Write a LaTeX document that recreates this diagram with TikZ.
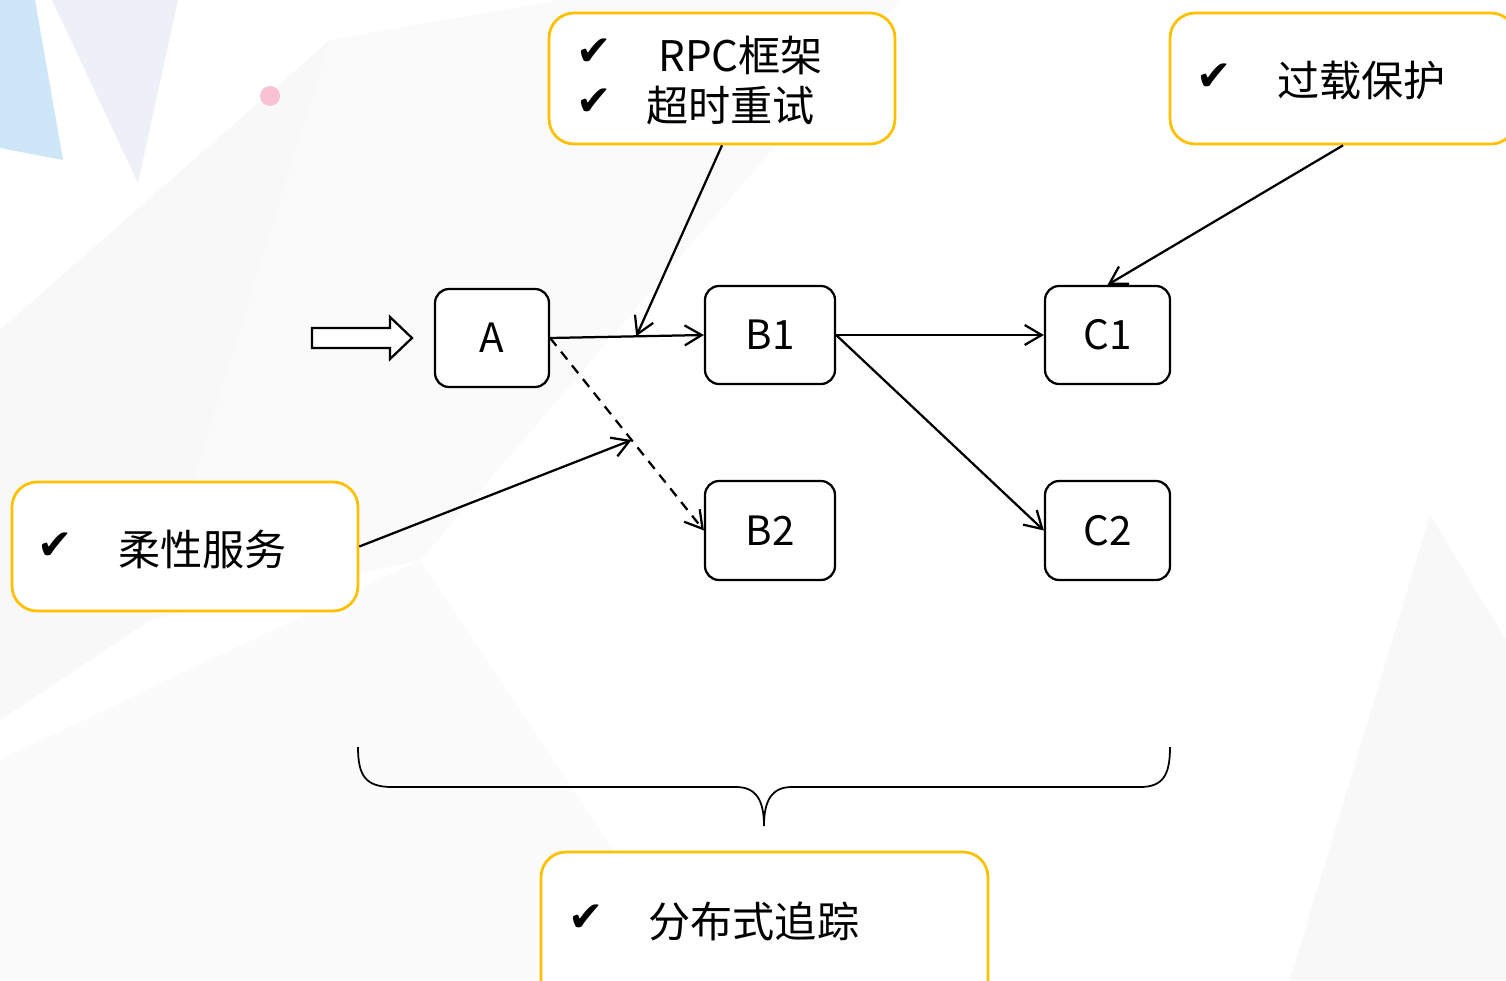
\documentclass[tikz,border=0pt]{standalone}
\usepackage{fontspec}
\setmainfont{Noto Sans CJK SC}
\newfontfamily\symfont{DejaVu Sans}
\usetikzlibrary{arrows.meta}
\definecolor{gold}{HTML}{FFC000}
\definecolor{bgblue}{HTML}{CDE7F9}
\definecolor{bgtri}{HTML}{EEF0F7}
\definecolor{bgpink}{HTML}{F8C2D3}
\definecolor{bggrey}{HTML}{F8F8F8}
\begin{document}
\begin{tikzpicture}[x=0.02cm,y=-0.02cm,
  blk/.style={draw=black, fill=white, line width=0.045cm, rounded corners=0.28cm,
    minimum height=1.96cm, inner sep=0, font=\fontsize{23}{27}\selectfont},
  goldbox/.style={draw=gold, fill=white, line width=0.055cm, rounded corners=0.5cm, inner sep=0},
  txt/.style={anchor=west, inner sep=0, font=\fontsize{24}{28}\selectfont},
  chk/.style={inner sep=0, font=\symfont\fontsize{24}{28}\selectfont},
  conn/.style={line width=0.045cm, -{Straight Barb[length=0.34cm,width=0.4cm]}},
  dconn/.style={conn, dash pattern=on 0.2cm off 0.15cm}
]
\clip (0,0) rectangle (1506,980);
\fill[white] (0,0) rectangle (1506,980);
% faint background
\fill[bggrey] (0,330) -- (330,40) -- (150,620) -- (0,720) -- cycle;
\fill[bggrey!70!white] (330,40) -- (560,0) -- (900,0) -- (420,560) -- (150,620) -- cycle;
\fill[bggrey] (1290,980) -- (1430,515) -- (1506,640) -- (1506,980) -- cycle;
\fill[bggrey!60!white] (0,760) -- (420,560) -- (700,980) -- (0,980) -- cycle;
\fill[bgblue] (0,0) -- (35,0) -- (63,160) -- (0,148) -- cycle;
\fill[bgtri] (52,0) -- (178,0) -- (138,183) -- cycle;
\fill[bgpink] (270,96) circle[radius=10];

% main nodes
\node[blk, minimum width=2.28cm] (A) at (492,338) {A};
\node[blk, minimum width=2.6cm] (B1) at (770,335) {B1};
\node[blk, minimum width=2.5cm] (C1) at (1107.5,335) {C1};
\node[blk, minimum width=2.6cm, minimum height=1.98cm] (B2) at (770,530.5) {B2};
\node[blk, minimum width=2.5cm, minimum height=1.98cm] (C2) at (1107.5,530.5) {C2};

% gold boxes
\node[goldbox, minimum width=6.92cm, minimum height=2.62cm] (rpc) at (722,78.5) {};
\node[goldbox, minimum width=6.92cm, minimum height=2.62cm] (guo) at (1343,78.5) {};
\node[goldbox, minimum width=6.92cm, minimum height=2.58cm] (rou) at (185,546.5) {};
\node[goldbox, minimum width=8.94cm, minimum height=3.2cm] (fen) at (764.5,932) {};

\node[chk] (k1) at (594,52) {✔};
\node[txt] (t1) at (658,55) {RPC框架};
\node[chk] (k2) at (594,102) {✔};
\node[txt] (t2) at (646,105) {超时重试};
\node[chk] (k3) at (1214,77) {✔};
\node[txt] (t3) at (1277,80) {过载保护};
\node[chk] (k4) at (55,546) {✔};
\node[txt] (t4) at (118,549) {柔性服务};
\node[chk] (k5) at (586,918) {✔};
\node[txt] (t5) at (648,921) {分布式追踪};

% hollow input arrow
\draw[line width=0.045cm, fill=white] (312,328) -- (390,328) -- (390,317) -- (412,338)
  -- (390,359) -- (390,348) -- (312,348) -- cycle;

% connectors
\draw[conn] (A.east) -- (B1.west) coordinate[pos=0.56] (m1);
\draw[dconn] (A.east) -- (B2.west) coordinate[pos=0.53] (m2);
\draw[conn] (rpc.south) -- (m1);
\draw[conn] (rou.east) -- (m2);
\draw[conn] (B1.east) -- (C1.west);
\draw[conn] (B1.east) -- (C2.west);
\draw[conn] (guo.south) -- (C1.north);

% brace
\coordinate (bl) at (358,747);
\coordinate (br) at (1170,747);
\coordinate (bt) at (764,826);
\draw[line width=0.035cm] (bl) .. controls (358,775) and (365,787) .. (392,787) -- (736,787)
  .. controls (756,787) and (764,800) .. (bt)
  .. controls (764,800) and (772,787) .. (792,787) -- (1140,787)
  .. controls (1163,787) and (1170,775) .. (br);
\end{tikzpicture}
\end{document}
